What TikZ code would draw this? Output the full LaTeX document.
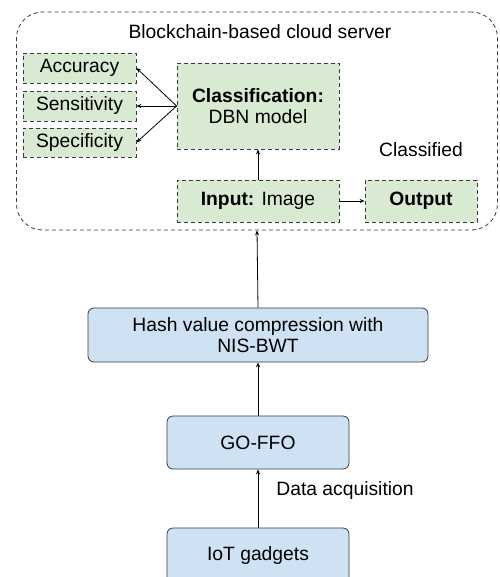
\documentclass[tikz,border=0pt]{standalone}
\usepackage{fontspec}
\setmainfont{Liberation Sans}
\usetikzlibrary{arrows.meta}
\definecolor{gfill}{HTML}{D9EAD3}
\definecolor{bfill}{HTML}{CFE2F3}
\definecolor{edge}{HTML}{3A3A3A}
\begin{document}
\begin{tikzpicture}[x=1pt,y=-1pt,
  txt/.style={font=\fontsize{19.3}{21.5}\selectfont, text=black},
  gbox/.style={txt, draw=edge, fill=gfill, line width=0.8pt, dash pattern=on 4pt off 3pt, inner sep=0pt, align=center},
  bbox/.style={txt, draw=edge, fill=bfill, line width=0.8pt, rounded corners=6pt, inner sep=0pt, align=center},
  arr/.style={draw=black, line width=0.8pt, -{Stealth[length=5pt,width=4pt]}}]
\useasboundingbox (0,0) rectangle (499,577);
\clip (0,0) rectangle (499,577);
% outer cloud server box
\node[draw=edge, line width=0.8pt, dash pattern=on 4pt off 3pt, rounded corners=26pt, minimum width=481pt, minimum height=218pt, inner sep=0pt] (cloud) at (257,121) {};
\node[txt] (title) at (260,32) {Blockchain-based cloud server};
% metric boxes
\node[gbox, minimum width=113pt, minimum height=30pt] (acc) at (79.5,68) {Accuracy};
\node[gbox, minimum width=113pt, minimum height=30pt] (sen) at (79.5,106) {Sensitivity};
\node[gbox, minimum width=113pt, minimum height=29pt] (spe) at (79.5,142.5) {Specificity};
% classification
\node[gbox, minimum width=162pt, minimum height=86pt] (cls) at (258,106) {\textbf{Classification:}\\DBN model};
\node[gbox, minimum width=162pt, minimum height=42pt] (inp) at (258,201) {\textbf{Input:} Image};
\node[gbox, minimum width=112pt, minimum height=42pt] (out) at (421,201) {\textbf{Output}};
\node[txt] (clsd) at (421,150) {Classified};
% lower chain
\node[bbox, minimum width=340pt, minimum height=54pt] (hash) at (258,335) {Hash value compression with\\NIS-BWT};
\node[bbox, minimum width=182pt, minimum height=53pt] (go) at (258,442.5) {GO-FFO};
\node[bbox, minimum width=182pt, minimum height=56pt] (iot) at (258,556) {IoT gadgets};
\node[txt] (daq) at (345,491) {Data acquisition};
% arrows
\draw[arr] (cls.west) -- (acc.east);
\draw[arr] (cls.west) -- (sen.east);
\draw[arr] (cls.west) -- (spe.east);
\draw[arr] (inp.north) -- (cls.south);
\draw[arr] (inp.east) -- (out.west);
\draw[arr] (hash.north) -- (cloud.south);
\draw[arr] (go.north) -- (hash.south);
\draw[arr] (iot.north) -- (go.south);
\end{tikzpicture}
\end{document}
